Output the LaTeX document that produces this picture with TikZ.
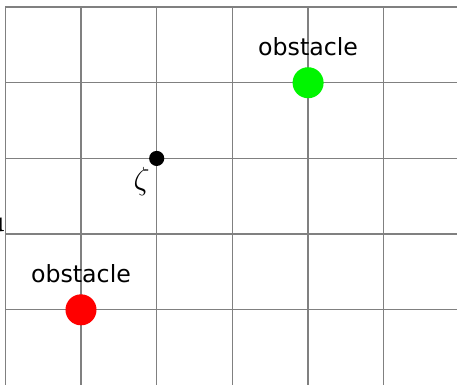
\documentclass[tikz,border=0pt]{standalone}
\usepackage{fontspec}
\newfontfamily\labelfont{DejaVu Sans}
\definecolor{obsred}{RGB}{255,0,0}
\definecolor{obsgreen}{RGB}{0,245,0}
\tikzset{
  gridline/.style={gray, line width=0.5pt},
  obstacle/.style={circle, inner sep=0pt, minimum size=0.41cm},
  agent/.style={circle, fill=black, inner sep=0pt, minimum size=0.2cm},
  obslabel/.style={anchor=base, inner sep=0pt, font=\labelfont\fontsize{8.9}{10}\selectfont},
}
\begin{document}
\begin{tikzpicture}
\useasboundingbox (-0.07,0.02) rectangle (5.967,5.093);
\draw[gridline] (0,0) grid (6,5);
\node[obstacle, fill=obsred] (red) at (1,1) {};
\node[obstacle, fill=obsgreen] (green) at (4,4) {};
\node[agent] (zeta) at (2,3) {};
\node[obslabel] (redlab) at (1,1.36) {obstacle};
\node[obslabel] (greenlab) at (4,4.36) {obstacle};
\node[inner sep=0pt, font=\fontsize{11.5}{13}\selectfont] (zlab) at (1.8,2.69) {$\zeta$};
\node[anchor=base east, inner sep=0pt, font=\fontsize{11.5}{13}\selectfont] (cut) at (0.0,2.03) {u};
\end{tikzpicture}
\end{document}
